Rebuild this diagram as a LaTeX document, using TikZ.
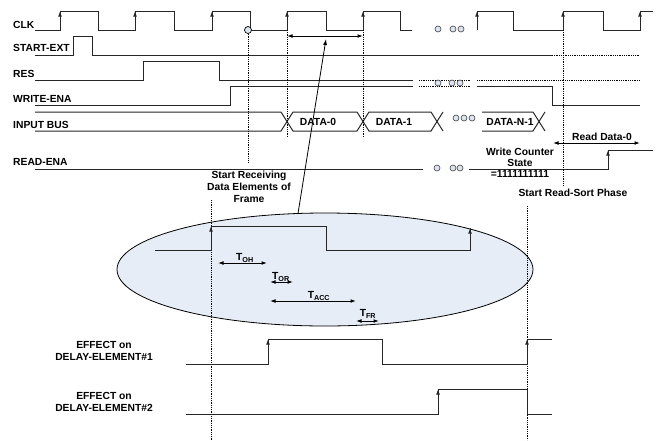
\documentclass[tikz,border=0pt]{standalone}
\usepackage{fontspec}
\setmainfont{Liberation Sans}
\usepackage{tikz}
\usetikzlibrary{shapes,arrows.meta}
\definecolor{zoomblue}{RGB}{230,237,247}
\definecolor{dotblue}{RGB}{220,228,242}
\tikzstyle{none}=[inner sep=0pt]
\tikzstyle{wave}=[-,line width=1pt,draw=black!85]
\tikzstyle{rise}=[-{Latex[length=5.5pt,width=3.8pt]},line width=1pt,draw=black!85]
\tikzstyle{span}=[{Latex[length=5.5pt,width=3.8pt]}-{Latex[length=5.5pt,width=3.8pt]},line width=1pt]
\tikzstyle{pointer}=[-{Latex[length=6pt,width=4pt]},line width=0.8pt]
\tikzstyle{guide}=[densely dotted,line width=0.8pt]
\tikzstyle{signame}=[anchor=west,inner sep=0pt,font=\fontsize{10.3}{12.2}\selectfont\bfseries]
\tikzstyle{note}=[align=center,inner sep=0pt,font=\fontsize{10.3}{12.2}\selectfont\bfseries]
\tikzstyle{gapdot}=[circle,draw=black!75,fill=dotblue,inner sep=0pt,minimum size=6pt,line width=0.6pt]
\tikzstyle{edgemark}=[circle,draw=black,fill=dotblue,inner sep=0pt,minimum size=7pt,line width=0.7pt]
\tikzstyle{zoomview}=[ellipse,draw=black,fill=zoomblue,line width=0.8pt,minimum width=416pt,minimum height=113pt,inner sep=0pt]
\pgfdeclarelayer{bglayer}
\pgfdeclarelayer{edgelayer}
\pgfdeclarelayer{nodelayer}
\pgfsetlayers{bglayer,edgelayer,nodelayer,main}

\begin{document}
\begin{tikzpicture}[x=10pt,y=-10pt]
	\useasboundingbox (0,0) rectangle (65.7,44.0);
	\begin{pgfonlayer}{bglayer}
		\node [style=zoomview] (zoom) at (32.5, 26.95) {};
	\end{pgfonlayer}
	\begin{pgfonlayer}{nodelayer}
		\node [style=signame] (clk) at (1.3, 2.5) {CLK};
		\node [style=signame] (startext) at (1.3, 4.8) {START-EXT};
		\node [style=signame] (res) at (1.3, 7.4) {RES};
		\node [style=signame] (writeena) at (1.3, 9.9) {WRITE-ENA};
		\node [style=signame] (inputbus) at (1.3, 12.5) {INPUT BUS};
		\node [style=signame] (readena) at (1.3, 16.2) {READ-ENA};
		\node [style=note] (data0) at (31.8, 12.15) {DATA-0};
		\node [style=note] (data1) at (39.4, 12.15) {DATA-1};
		\node [style=note] (dataN) at (51.0, 12.15) {DATA-N-1};
		\node [style=note] (startrx) at (24.9, 18.7) {Start Receiving\\Data Elements of\\Frame};
		\node [style=note, font=\fontsize{10.3}{10.8}\selectfont\bfseries] (wcstate) at (52.0, 16.25) {Write Counter\\State\\=1111111111};
		\node [style=note] (readdata) at (60.2, 13.7) {Read Data-0};
		\node [style=note] (startrs) at (57.3, 19.3) {Start Read-Sort Phase};
		\node [style=note] (toh) at (24.5, 25.8) {T\textsubscript{OH}};
		\node [style=note] (tor) at (28.1, 27.7) {T\textsubscript{OR}};
		\node [style=note] (tacc) at (31.9, 29.6) {T\textsubscript{ACC}};
		\node [style=note] (tfr) at (36.8, 31.4) {T\textsubscript{FR}};
		\node [style=note] (effect1) at (10.4, 35.1) {EFFECT on\\DELAY-ELEMENT\#1};
		\node [style=note] (effect2) at (10.4, 40.2) {EFFECT on\\DELAY-ELEMENT\#2};
		\node [style=edgemark] (clkfall) at (24.8, 3.0) {};
		\node [style=gapdot] (clkgapA) at (43.8, 2.9) {};
		\node [style=gapdot] (clkgapB) at (45.3, 2.9) {};
		\node [style=gapdot] (clkgapC) at (46.1, 2.9) {};
		\node [style=gapdot] (resgapA) at (43.8, 8.3) {};
		\node [style=gapdot] (resgapB) at (45.2, 8.3) {};
		\node [style=gapdot] (resgapC) at (46.0, 8.3) {};
		\node [style=gapdot] (busgapA) at (45.6, 11.8) {};
		\node [style=gapdot] (busgapB) at (46.4, 11.8) {};
		\node [style=gapdot] (busgapC) at (47.2, 11.8) {};
		\node [style=gapdot] (rdgapA) at (43.7, 16.8) {};
		\node [style=gapdot] (rdgapB) at (45.3, 16.8) {};
		\node [style=gapdot] (rdgapC) at (46.0, 16.8) {};
		\node [style=none] (ptrfoot) at (29.8, 21.35) {};
		\node [style=none] (ptrhead) at (32.6, 3.9) {};
		\node [style=none] (periodL) at (28.7, 3.6) {};
		\node [style=none] (periodR) at (36.3, 3.6) {};
		\node [style=none] (readL) at (55.3, 14.3) {};
		\node [style=none] (readR) at (64.0, 14.3) {};
		\node [style=none] (tohL) at (21.8, 26.3) {};
		\node [style=none] (tohR) at (26.7, 26.3) {};
		\node [style=none] (torL) at (27.0, 28.2) {};
		\node [style=none] (torR) at (29.3, 28.2) {};
		\node [style=none] (taccL) at (27.0, 30.1) {};
		\node [style=none] (taccR) at (35.6, 30.1) {};
		\node [style=none] (tfrL) at (35.6, 32.1) {};
		\node [style=none] (tfrR) at (37.9, 32.1) {};
	\end{pgfonlayer}
	\begin{pgfonlayer}{edgelayer}
		% clock
		\draw [style=wave] (3.5,3.0) -| (6.0,1.1) -| (9.8,3.0) -| (13.5,1.1) -| (17.4,3.0) -| (21.2,1.1) -| (25.0,3.0) -| (28.7,1.1) -| (32.6,3.0) -| (36.3,1.1) -| (40.0,3.0) -- (41.2,3.0);
		\draw [style=wave] (47.7,3.0) |- (51.3,1.1) |- (56.3,3.0) |- (60.3,1.1) |- (64.0,3.0) |- (65.3,1.1);
		\draw [style=rise] (6.0,3.0) -- (6.0,1.1);
		\draw [style=rise] (13.5,3.0) -- (13.5,1.1);
		\draw [style=rise] (21.2,3.0) -- (21.2,1.1);
		\draw [style=rise] (28.7,3.0) -- (28.7,1.1);
		\draw [style=rise] (36.3,3.0) -- (36.3,1.1);
		\draw [style=rise] (47.7,3.0) -- (47.7,1.1);
		\draw [style=rise] (56.3,3.0) -- (56.3,1.1);
		\draw [style=rise] (64.0,3.0) -- (64.0,1.1);
		% start-ext, res, write-ena
		\draw [style=wave] (3.5,5.5) -| (7.3,3.6) -| (9.2,5.5) -- (55.2,5.5);
		\draw [style=guide] (55.2,5.5) -- (64.0,5.5);
		\draw [style=wave] (3.5,8.0) -| (14.3,6.1) -| (21.9,8.0) -- (41.3,8.0);
		\draw [style=guide] (41.9,8.0) -- (47.0,8.0);
		\draw [style=guide] (47.7,8.0) -- (64.0,8.0);
		\draw [style=wave] (3.5,10.5) -| (23.0,8.6) -- (41.3,8.6);
		\draw [style=guide] (41.9,8.6) -- (47.0,8.6);
		\draw [style=wave] (47.7,8.6) -| (55.2,10.5) -- (64.0,10.5);
		% input bus
		\draw [style=wave] (3.5,11.2) -- (28.1,11.2) -- (29.3,13.1) -- (35.7,13.1) -- (36.9,11.2) -- (43.1,11.2) -- (44.3,13.1);
		\draw [style=wave] (3.5,13.1) -- (28.1,13.1) -- (29.3,11.2) -- (35.7,11.2) -- (36.9,13.1) -- (43.1,13.1) -- (44.3,11.2);
		\draw [style=wave] (48.2,11.2) -- (53.3,11.2) -- (54.5,13.1);
		\draw [style=wave] (48.2,13.1) -- (53.3,13.1) -- (54.5,11.2);
		% read-ena
		\draw [style=wave] (3.5,16.9) -- (42.3,16.9);
		\draw [style=wave] (46.9,16.9) -| (60.8,15.0) -- (65.3,15.0);
		\draw [style=rise] (60.8,16.9) -- (60.8,15.0);
		% guides
		\draw [style=guide] (clkfall.south) -- (24.8,16.3);
		\draw [style=guide] (28.7,3.0) -- (28.7,13.7);
		\draw [style=guide] (36.3,3.0) -- (36.3,13.7);
		\draw [style=guide] (56.3,3.0) -- (56.3,18.5);
		\draw [style=guide] (21.1,20.0) -- (21.1,44.0);
		\draw [style=guide] (52.7,20.6) -- (52.7,44.0);
		\draw [style=span] (periodL.center) to (periodR.center);
		\draw [style=span] (readL.center) to (readR.center);
		\draw [style=pointer] (ptrfoot.center) to (ptrhead.center);
		% zoomed edge
		\draw [style=wave] (15.5,25.0) -| (21.1,22.6) -| (32.6,25.0) -| (47.0,22.8);
		\draw [style=rise] (21.1,25.0) -- (21.1,22.6);
		\draw [style=rise] (47.0,25.0) -- (47.0,22.8);
		\draw [style=span] (tohL.center) to (tohR.center);
		\draw [style=span] (torL.center) to (torR.center);
		\draw [style=span] (taccL.center) to (taccR.center);
		\draw [style=span] (tfrL.center) to (tfrR.center);
		% delay elements
		\draw [style=wave] (18.6,36.4) -| (26.8,33.9) -| (38.2,36.4) -| (52.7,33.9) -- (55.2,33.9);
		\draw [style=rise] (26.8,36.4) -- (26.8,33.9);
		\draw [style=rise] (52.7,36.4) -- (52.7,33.9);
		\draw [style=wave] (18.6,41.4) -| (43.8,38.9) -| (52.7,41.4) -- (55.2,41.4);
		\draw [style=rise] (43.8,41.4) -- (43.8,38.9);
	\end{pgfonlayer}
\end{tikzpicture}
\end{document}
